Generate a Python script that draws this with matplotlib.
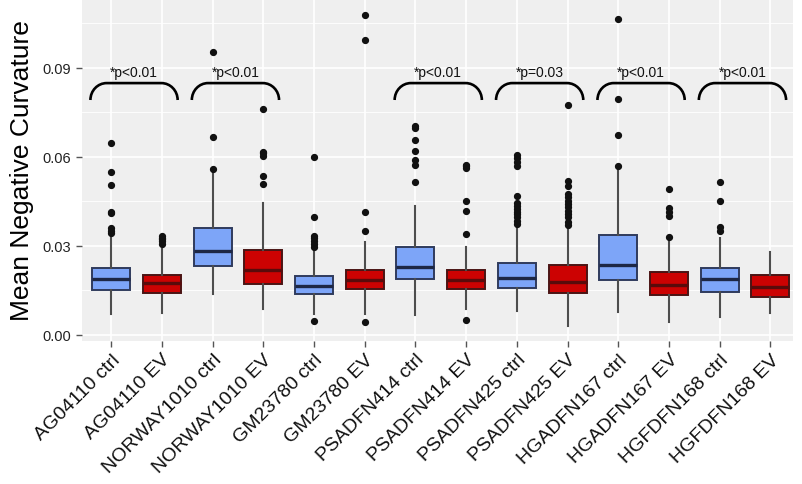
import matplotlib
matplotlib.use("Agg")
import matplotlib.pyplot as plt
from matplotlib.path import Path
from matplotlib.patches import PathPatch
from matplotlib.ticker import MultipleLocator

plt.rcParams["font.family"] = ["Liberation Sans", "DejaVu Sans"]

labels = [
    "AG04110 ctrl", "AG04110 EV", "NORWAY1010 ctrl", "NORWAY1010 EV",
    "GM23780 ctrl", "GM23780 EV", "PSADFN414 ctrl", "PSADFN414 EV",
    "PSADFN425 ctrl", "PSADFN425 EV", "HGADFN167 ctrl", "HGADFN167 EV",
    "HGFDFN168 ctrl", "HGFDFN168 EV",
]
q1 = [0.0152, 0.0142, 0.0232, 0.0171, 0.0139, 0.0155, 0.0189, 0.0155,
      0.0157, 0.0142, 0.0186, 0.0136, 0.0146, 0.0129]
med = [0.0188, 0.0174, 0.0283, 0.0220, 0.0166, 0.0186, 0.0228, 0.0185,
       0.0191, 0.0180, 0.0237, 0.0170, 0.0189, 0.0163]
q3 = [0.0226, 0.0202, 0.0360, 0.0286, 0.0200, 0.0220, 0.0296, 0.0220,
      0.0243, 0.0236, 0.0338, 0.0211, 0.0226, 0.0202]
whis_lo = [0.0071, 0.0073, 0.0139, 0.0088, 0.0070, 0.0071, 0.0067, 0.0088,
           0.0079, 0.0031, 0.0077, 0.0045, 0.0060, 0.0073]
whis_hi = [0.0338, 0.0290, 0.0548, 0.0445, 0.0288, 0.0312, 0.0434, 0.0296,
           0.0368, 0.0368, 0.0562, 0.0324, 0.0326, 0.0279]
outliers = [
    [0.0646, 0.0549, 0.0506, 0.0415, 0.0410, 0.0362, 0.0350, 0.0344],
    [0.0333, 0.0328, 0.0322, 0.0315, 0.0305],
    [0.0955, 0.0667, 0.0559],
    [0.0763, 0.0618, 0.0612, 0.0603, 0.0537, 0.0509],
    [0.0601, 0.0399, 0.0335, 0.0326, 0.0317, 0.0307, 0.0296, 0.0047],
    [0.1080, 0.0993, 0.0414, 0.0350, 0.0045],
    [0.0704, 0.0699, 0.0658, 0.0620, 0.0591, 0.0574, 0.0517],
    [0.0574, 0.0569, 0.0562, 0.0451, 0.0418, 0.0339, 0.0052],
    [0.0608, 0.0598, 0.0584, 0.0571, 0.0470, 0.0445, 0.0434, 0.0425,
     0.0416, 0.0408, 0.0397, 0.0385, 0.0374],
    [0.0775, 0.0520, 0.0503, 0.0475, 0.0464, 0.0453, 0.0442, 0.0430,
     0.0419, 0.0408, 0.0397, 0.0382, 0.0371],
    [0.1065, 0.0794, 0.0675, 0.0569],
    [0.0492, 0.0428, 0.0414, 0.0400, 0.0331],
    [0.0517, 0.0450, 0.0365, 0.0350],
    [],
]
# significance brackets: first box index of each pair, label
sig_pairs = [0, 2, 6, 8, 10, 12]
sig_labels = ["*p<0.01", "*p<0.01", "*p<0.01", "*p=0.03", "*p<0.01", "*p<0.01"]
bracket_top = 0.0849
bracket_end = 0.0792
sig_text_y = 0.0887

fig = plt.figure(figsize=(8.02, 4.85), dpi=100)
ax = fig.add_axes([0.102, 0.295, 0.887, 0.705])
ax.set_facecolor("#EFEFEF")

styles = {
    "ctrl": dict(fill="#7DA5F8", edge="#2F3B5C", median="#1D2745"),
    "EV": dict(fill="#CC0202", edge="#4A1414", median="#5A0B0B"),
}

for group, st in styles.items():
    idx = [i for i, lab in enumerate(labels) if lab.endswith(group)]
    stats = [
        dict(med=med[i], q1=q1[i], q3=q3[i], whislo=whis_lo[i],
             whishi=whis_hi[i], fliers=outliers[i])
        for i in idx
    ]
    ax.bxp(
        stats, positions=[i + 1 for i in idx], widths=0.75,
        patch_artist=True, showcaps=False, manage_ticks=False,
        boxprops=dict(facecolor=st["fill"], edgecolor=st["edge"], linewidth=1.4),
        medianprops=dict(color=st["median"], linewidth=2.4),
        whiskerprops=dict(color="#4D4D4D", linewidth=1.5),
        flierprops=dict(marker="o", markerfacecolor="#111111",
                        markeredgecolor="#111111", markersize=4.2),
        zorder=3,
    )

# brackets with rounded corners, drawn slightly left of the pair centre
half = 0.86
r = 0.32
k = 0.552
for first, text in zip(sig_pairs, sig_labels):
    cx = first + 1.45
    L, R = cx - half, cx + half
    verts = [
        (L, bracket_end),
        (L, bracket_end + k * (bracket_top - bracket_end)),
        (L + r * (1 - k), bracket_top),
        (L + r, bracket_top),
        (R - r, bracket_top),
        (R - r * (1 - k), bracket_top),
        (R, bracket_end + k * (bracket_top - bracket_end)),
        (R, bracket_end),
    ]
    codes = [Path.MOVETO, Path.CURVE4, Path.CURVE4, Path.CURVE4,
             Path.LINETO, Path.CURVE4, Path.CURVE4, Path.CURVE4]
    ax.add_patch(PathPatch(Path(verts, codes), facecolor="none",
                           edgecolor="black", linewidth=1.9, zorder=4,
                           capstyle="butt"))
    ax.text(cx, sig_text_y, text, ha="center", va="center", fontsize=10,
            color="#111111", zorder=4)

ax.set_xlim(0.42, 14.45)
ax.set_ylim(-0.00202, 0.11325)
ax.yaxis.set_major_locator(MultipleLocator(0.03))
ax.yaxis.set_minor_locator(MultipleLocator(0.015))
ax.set_yticks([0.0, 0.03, 0.06, 0.09])
ax.set_yticklabels(["0.00", "0.03", "0.06", "0.09"])
ax.set_xticks(range(1, len(labels) + 1))
ax.set_xticklabels(labels, rotation=45, ha="right", rotation_mode="anchor",
                   fontsize=14, color="#111111")
ax.tick_params(axis="y", labelsize=10.5, labelcolor="#222222", color="#555555",
               length=4, width=1)
ax.tick_params(axis="x", color="#555555", length=4, width=1, pad=3)
ax.tick_params(axis="y", which="minor", length=0)

ax.grid(True, which="major", color="white", linewidth=1.2)
ax.grid(True, which="minor", axis="y", color="white", linewidth=0.6)
ax.set_axisbelow(True)
for sp in ax.spines.values():
    sp.set_visible(False)

ax.set_ylabel("Mean Negative Curvature", fontsize=19, color="black", labelpad=6)

fig.savefig("out.png", dpi=100)
